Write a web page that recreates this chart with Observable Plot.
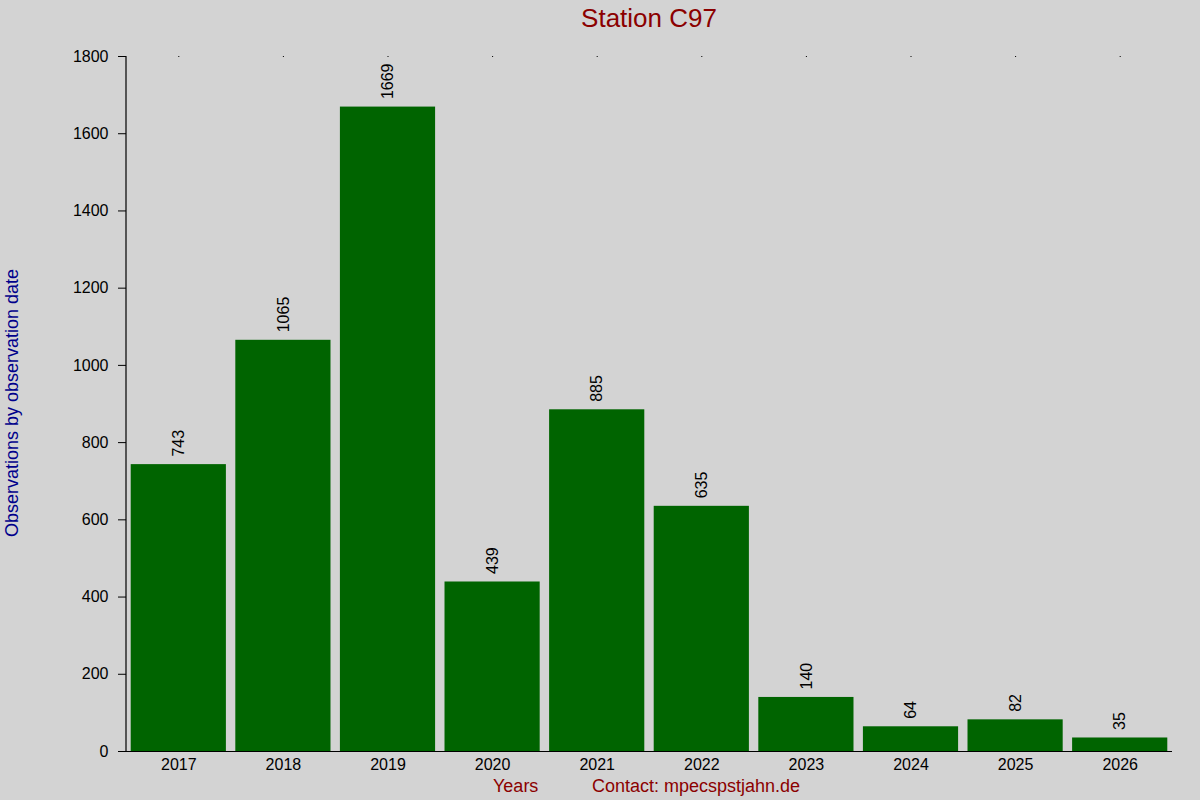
<!DOCTYPE html>
<html>
<head>
<meta charset="utf-8">
<script src="https://cdn.jsdelivr.net/npm/d3@7"></script>
<script src="https://cdn.jsdelivr.net/npm/@observablehq/plot@0.6"></script>
<style>
  html, body { margin: 0; padding: 0; background: #d3d3d3; }
  #chart svg { display: block; }
</style>
</head>
<body>
<div id="chart"></div>
<script>
const years = ["2017", "2018", "2019", "2020", "2021", "2022", "2023", "2024", "2025", "2026"];
const counts = [743, 1065, 1669, 439, 885, 635, 140, 64, 82, 35];
const yTicks = [0, 200, 400, 600, 800, 1000, 1200, 1400, 1600, 1800];
const titleText = "Station C97";
const xLabel = "Years";
const contactText = "Contact: mpecspstjahn.de";
const yLabel = "Observations by observation date";

const data = years.map((y, i) => ({year: y, count: counts[i]}));
const font = "'Liberation Sans', Arial, sans-serif";
const mLeft = 126;

const chart = Plot.plot({
  width: 1200,
  height: 800,
  marginLeft: mLeft,
  marginRight: 28,
  marginTop: 56,
  marginBottom: 49,
  style: {background: "#d3d3d3", fontFamily: font, fontSize: "16px", color: "black"},
  x: {type: "band", domain: years, paddingInner: 0.09, paddingOuter: 0.045, round: false, label: null},
  y: {domain: [0, 1800], label: null},
  marks: [
    Plot.barY(data, {x: "year", y: "count", fill: "#006400"}),
    Plot.ruleY([0], {stroke: "black", strokeWidth: 1.2}),
    Plot.axisY({ticks: yTicks, tickFormat: d => String(d), tickSize: 8, tickPadding: 10, label: null, fontSize: 16, stroke: "black"}),
    Plot.axisX({anchor: "bottom", tickSize: 0, tickPadding: 7, label: null, fontSize: 16}),
    Plot.axisX({anchor: "top", tickSize: 1, tickFormat: () => "", label: null}),
    Plot.text(data, {x: "year", y: "count", text: d => String(d.count), rotate: -90, textAnchor: "start", lineAnchor: "middle", dy: -8, fontSize: 16, fill: "black"})
  ]
});

const svg = d3.select(chart);
const yRange = chart.scale("y").range;
svg.append("line")
  .attr("x1", mLeft).attr("x2", mLeft)
  .attr("y1", yRange[0]).attr("y2", yRange[1])
  .attr("stroke", "black").attr("stroke-width", 1.2);
svg.append("text")
  .attr("x", 649).attr("y", 27)
  .attr("text-anchor", "middle")
  .attr("font-family", font).attr("font-size", 26)
  .attr("fill", "#8b0000")
  .text(titleText);
svg.append("text")
  .attr("x", 493).attr("y", 792)
  .attr("text-anchor", "start")
  .attr("font-family", font).attr("font-size", 18)
  .attr("fill", "#8b0000")
  .text(xLabel);
svg.append("text")
  .attr("x", 592).attr("y", 792)
  .attr("text-anchor", "start")
  .attr("font-family", font).attr("font-size", 18)
  .attr("fill", "#8b0000")
  .text(contactText);
svg.append("text")
  .attr("transform", "translate(18,403) rotate(-90)")
  .attr("text-anchor", "middle")
  .attr("font-family", font).attr("font-size", 18)
  .attr("fill", "#00008b")
  .text(yLabel);

document.getElementById("chart").appendChild(chart);
</script>
</body>
</html>
